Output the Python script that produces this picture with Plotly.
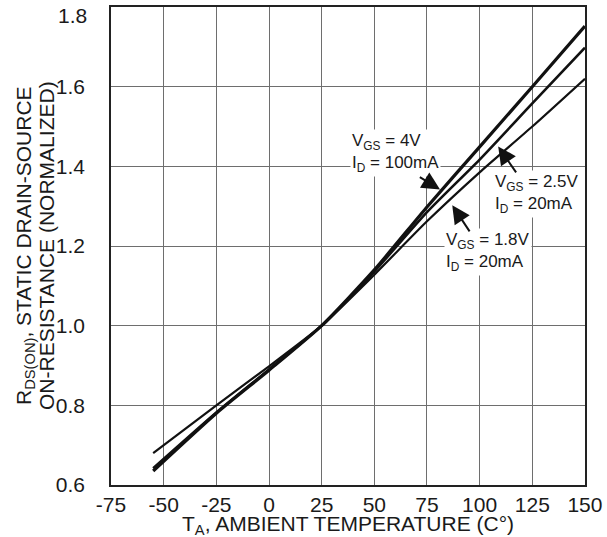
import plotly.graph_objects as go

# Data
temps = [-55, -25, 0, 25, 50, 75, 100, 125, 150]
r_4v_100ma = [0.635, 0.78, 0.888, 1.0, 1.14, 1.298, 1.449, 1.60, 1.752]
r_25v_20ma = [0.642, 0.782, 0.89, 1.0, 1.136, 1.285, 1.417, 1.558, 1.698]
r_18v_20ma = [0.68, 0.80, 0.898, 1.0, 1.128, 1.262, 1.385, 1.50, 1.62]

x_ticks = [-75, -50, -25, 0, 25, 50, 75, 100, 125, 150]
y_ticks = [0.6, 0.8, 1.0, 1.2, 1.4, 1.6, 1.8]
y_top_label = "1.8"

FONT = "Liberation Sans, Arial, sans-serif"

fig = go.Figure()
for vals, w, name in [(r_4v_100ma, 3.2, "VGS=4V"), (r_25v_20ma, 2.6, "VGS=2.5V"), (r_18v_20ma, 2.2, "VGS=1.8V")]:
    fig.add_trace(go.Scatter(x=temps, y=vals, mode="lines", name=name,
                             line=dict(color="#111111", width=w, shape="spline", smoothing=0.6),
                             showlegend=False, hoverinfo="skip", cliponaxis=True))

tick_font = dict(family=FONT, size=21, color="#1a1a1a")
axis_common = dict(showgrid=True, gridcolor="#6e6e6e", gridwidth=1, showline=True,
                   linecolor="#222222", linewidth=1.5, mirror=True, zeroline=False,
                   tickfont=tick_font, ticks="", ticklabeloverflow="allow")

fig.update_xaxes(range=[-75.02, 150.02], tickvals=x_ticks, ticktext=[str(t) for t in x_ticks],
                 ticklabelstandoff=0, **axis_common)
# top label (1.8) is drawn separately, nudged down inside the page like the reference
fig.update_yaxes(range=[0.5999, 1.8001], tickvals=y_ticks,
                 ticktext=[f"{t:.1f}" if t < 1.75 else "" for t in y_ticks],
                 ticklabelstandoff=20, **axis_common)

ann_font = dict(family=FONT, size=17, color="#1a1a1a")
title_font = dict(family=FONT, size=21, color="#1a1a1a")
annotations = [
    dict(x=0, y=y_ticks[-1], xref="paper", yref="y", xshift=-22, yshift=-8, showarrow=False,
         xanchor="right", yanchor="middle", font=tick_font, text=y_top_label),
    dict(x=38.5, y=1.4325, xref="x", yref="y", showarrow=False, xanchor="left", yanchor="middle",
         align="left", bgcolor="white", font=ann_font,
         text="V<sub>GS</sub> = 4V<br>I<sub>D</sub> = 100mA"),
    dict(x=106.5, y=1.331, xref="x", yref="y", showarrow=False, xanchor="left", yanchor="middle",
         align="left", bgcolor="white", font=ann_font,
         text="V<sub>GS</sub> = 2.5V<br>I<sub>D</sub> = 20mA"),
    dict(x=83.0, y=1.184, xref="x", yref="y", showarrow=False, xanchor="left", yanchor="middle",
         align="left", bgcolor="white", font=ann_font,
         text="V<sub>GS</sub> = 1.8V<br>I<sub>D</sub> = 20mA"),
    # arrows
    dict(x=81.2, y=1.342, ax=70.9, ay=1.375, xref="x", yref="y", axref="x", ayref="y",
         text="", showarrow=True, arrowhead=2, arrowsize=1.8, arrowwidth=2.0, arrowcolor="#111111"),
    dict(x=108.8, y=1.45, ax=117.8, ay=1.381, xref="x", yref="y", axref="x", ayref="y",
         text="", showarrow=True, arrowhead=2, arrowsize=1.8, arrowwidth=2.0, arrowcolor="#111111"),
    dict(x=87.0, y=1.3025, ax=95.7, ay=1.233, xref="x", yref="y", axref="x", ayref="y",
         text="", showarrow=True, arrowhead=2, arrowsize=1.8, arrowwidth=2.0, arrowcolor="#111111"),
    # y axis title, two lines placed individually for tight line spacing
    dict(x=0, y=0.5, xref="paper", yref="paper", xshift=-86, showarrow=False, textangle=-90,
         xanchor="center", yanchor="middle", font=title_font,
         text="R<sub>DS(ON)</sub>, STATIC DRAIN-SOURCE"),
    dict(x=0, y=0.5, xref="paper", yref="paper", xshift=-65, showarrow=False, textangle=-90,
         xanchor="center", yanchor="middle", font=title_font,
         text="ON-RESISTANCE (NORMALIZED)"),
    # x axis title
    dict(x=0.5, y=-0.052, xref="paper", yref="paper", showarrow=False,
         xanchor="center", yanchor="top", font=title_font,
         text="T<sub>A</sub>, AMBIENT TEMPERATURE (C°)"),
    # figure caption (cut off at the bottom)
    dict(x=0.48, y=-0.1, xref="paper", yref="paper", showarrow=False,
         xanchor="center", yanchor="top", font=dict(family=FONT, size=15, color="#8a8a8a"),
         text="Figure 9. Normalized Static Drain-Source On-Resistance vs. Temperature"),
]

fig.update_layout(width=607, height=537, margin=dict(l=111, r=15, t=5, b=52),
                  paper_bgcolor="white", plot_bgcolor="white", annotations=annotations,
                  font=dict(family=FONT))

fig.write_html("out.html")
